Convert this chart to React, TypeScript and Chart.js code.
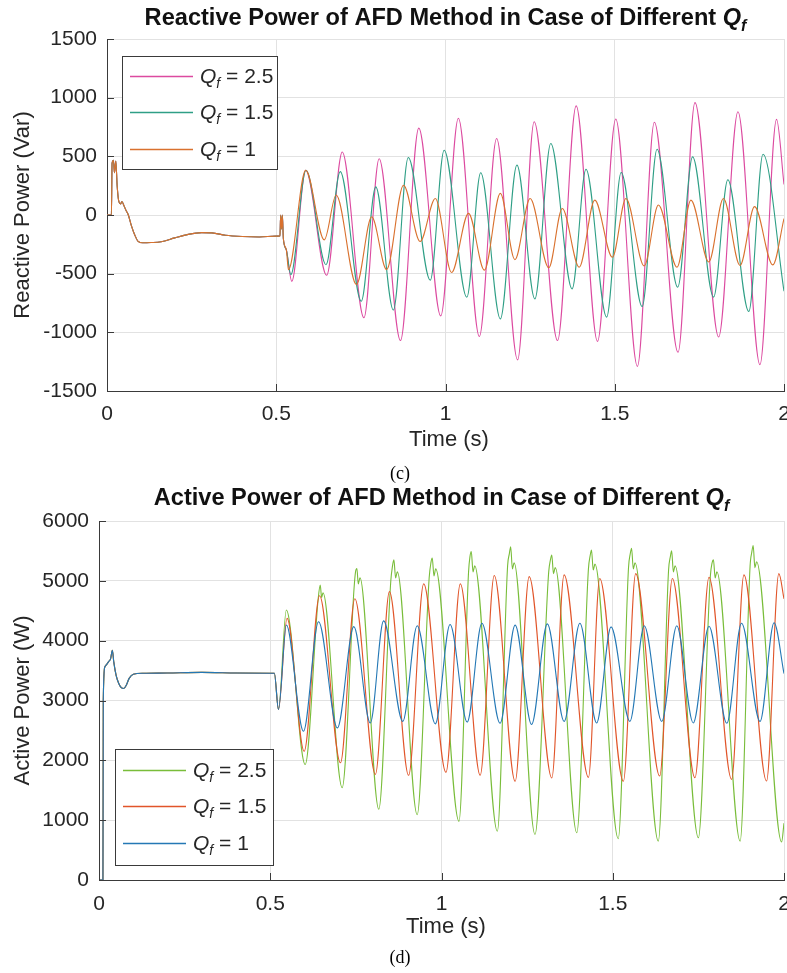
import React, { useEffect, useRef } from 'react';
import { Chart, registerables } from 'chart.js';

Chart.register(...registerables);

// ================= DATA =================
const timeTicks = [0, 0.5, 1, 1.5, 2];
const reactiveTicks = [-1500, -1000, -500, 0, 500, 1000, 1500];
const activeTicks = [0, 1000, 2000, 3000, 4000, 5000, 6000];
const qfLabels = ['2.5', '1.5', '1'];

// common transient (all three Qf curves coincide) — reactive power
const reactiveStart: [number, number][] = [
  [0, 0], [0.013, 0], [0.015, 440], [0.019, 467], [0.022, 360], [0.026, 460], [0.03, 250],
  [0.034, 130], [0.04, 95], [0.044, 115], [0.05, 80], [0.056, 40], [0.063, 0], [0.072, -90],
  [0.082, -170], [0.092, -225], [0.105, -237], [0.13, -235], [0.16, -228], [0.2, -195],
  [0.24, -165], [0.28, -150], [0.31, -152], [0.35, -172], [0.4, -183], [0.45, -187],
  [0.5, -180], [0.511, -178], [0.513, 0], [0.516, -120], [0.518, 0], [0.521, -200],
];
const reactiveQ25: [number, number][] = [
  [0.53, -300], [0.546, -565], [0.587, 381], [0.649, -514], [0.695, 537], [0.759, -876],
  [0.804, 480], [0.867, -1070], [0.921, 740], [0.986, -860], [1.038, 825], [1.1, -1035],
  [1.151, 652], [1.213, -1235], [1.262, 795], [1.331, -1070], [1.386, 930], [1.449, -1077],
  [1.503, 818], [1.567, -1290], [1.617, 790], [1.687, -1170], [1.737, 958], [1.807, -1040],
  [1.864, 880], [1.929, -1275], [1.978, 815], [2.0, 260],
];
const reactiveQ15: [number, number][] = [
  [0.53, -300], [0.543, -508], [0.588, 381], [0.647, -424], [0.689, 370], [0.751, -735],
  [0.794, 240], [0.846, -810], [0.89, 490], [0.955, -555], [0.996, 552], [1.063, -700],
  [1.104, 360], [1.162, -885], [1.211, 425], [1.264, -715], [1.311, 610], [1.374, -630],
  [1.415, 390], [1.476, -870], [1.519, 362], [1.581, -780], [1.625, 560], [1.686, -615],
  [1.73, 495], [1.792, -700], [1.834, 300], [1.896, -822], [1.938, 518], [2.0, -650],
];
const reactiveQ1: [number, number][] = [
  [0.53, -300], [0.536, -466], [0.587, 381], [0.642, -212], [0.677, 170], [0.737, -593],
  [0.782, -15], [0.826, -466], [0.876, 254], [0.925, -226], [0.97, 141], [1.018, -490],
  [1.068, 14], [1.115, -470], [1.162, 184], [1.205, -380], [1.25, 141], [1.305, -450],
  [1.345, 56], [1.395, -445], [1.441, 127], [1.493, -360], [1.533, 141], [1.587, -435],
  [1.629, 85], [1.684, -445], [1.725, 127], [1.778, -400], [1.821, 141], [1.87, -430],
  [1.913, 71], [1.967, -425], [2.0, -30],
];

// common transient — active power
const activeStart: [number, number][] = [
  [0, 0], [0.0115, 0], [0.0125, 3000], [0.017, 3560], [0.022, 3600], [0.028, 3650],
  [0.034, 3700], [0.039, 3840], [0.043, 3650], [0.05, 3420], [0.058, 3280], [0.066, 3210],
  [0.072, 3200], [0.08, 3260], [0.088, 3370], [0.1, 3440], [0.13, 3455], [0.2, 3460],
  [0.3, 3470], [0.4, 3460], [0.5, 3455], [0.512, 3455],
];
const activeQ25: [number, number][] = [
  [0.524, 2850], [0.547, 4512], [0.602, 1931], [0.64, 4700], [0.646, 4928], [0.65, 4720],
  [0.654, 4800], [0.71, 1543], [0.745, 4900], [0.749, 5150], [0.753, 5205], [0.757, 4950],
  [0.762, 5050], [0.817, 1182], [0.852, 5000], [0.857, 5250], [0.861, 5350], [0.866, 5050],
  [0.871, 5150], [0.929, 1090], [0.964, 5050], [0.969, 5300], [0.973, 5380], [0.978, 5080],
  [0.983, 5200], [1.051, 980], [1.079, 5150], [1.083, 5400], [1.087, 5490], [1.092, 5150],
  [1.097, 5250], [1.163, 815], [1.193, 5250], [1.198, 5450], [1.202, 5570], [1.207, 5200],
  [1.212, 5300], [1.273, 760], [1.313, 5150], [1.318, 5350], [1.322, 5430], [1.327, 5120],
  [1.332, 5220], [1.395, 790], [1.429, 5200], [1.434, 5420], [1.438, 5515], [1.443, 5180],
  [1.448, 5280], [1.516, 690], [1.546, 5220], [1.551, 5450], [1.555, 5545], [1.56, 5200],
  [1.565, 5300], [1.633, 650], [1.663, 5180], [1.668, 5400], [1.672, 5500], [1.677, 5150],
  [1.682, 5250], [1.75, 705], [1.785, 5080], [1.79, 5300], [1.794, 5350], [1.799, 5050],
  [1.804, 5150], [1.872, 650], [1.901, 5250], [1.906, 5480], [1.91, 5590], [1.915, 5220],
  [1.92, 5320], [1.993, 635], [2.0, 950],
];
const activeQ15: [number, number][] = [
  [0.524, 2850], [0.549, 4373], [0.599, 2153], [0.644, 4750], [0.705, 1959], [0.747, 4700],
  [0.807, 1765], [0.848, 4820], [0.904, 1750], [0.948, 4950], [1.013, 1800], [1.055, 4950],
  [1.113, 1750], [1.154, 5090], [1.215, 1650], [1.256, 5070], [1.322, 1705], [1.358, 5100],
  [1.429, 1715], [1.462, 5040], [1.531, 1650], [1.567, 5120], [1.637, 1737], [1.674, 5040],
  [1.74, 1709], [1.781, 5060], [1.847, 1682], [1.883, 5100], [1.949, 1654], [1.985, 5120],
  [2.0, 4700],
];
const activeQ1: [number, number][] = [
  [0.524, 2850], [0.547, 4262], [0.597, 2486], [0.641, 4317], [0.696, 2542], [0.744, 4234],
  [0.792, 2625], [0.831, 4330], [0.887, 2650], [0.929, 4250], [0.982, 2610], [1.025, 4270],
  [1.075, 2640], [1.118, 4290], [1.171, 2620], [1.215, 4260], [1.263, 2600], [1.309, 4280],
  [1.358, 2650], [1.404, 4290], [1.453, 2625], [1.495, 4230], [1.55, 2650], [1.592, 4250],
  [1.643, 2650], [1.687, 4250], [1.735, 2625], [1.781, 4240], [1.833, 2620], [1.876, 4290],
  [1.93, 2650], [1.971, 4300], [2.0, 3450],
];

// ================= STYLE =================
const FONT = "'Liberation Sans', Arial, Helvetica, sans-serif";
const SERIF = "'Liberation Serif', 'Times New Roman', serif";
const INK = '#262626';
const AXIS = '#3a3a3a';
const GRID = '#e2e2e2';

type Part = { text: string; italic?: boolean; bold?: boolean; sub?: boolean };

function partFont(p: Part, size: number) {
  const s = p.sub ? Math.round(size * 0.66) : size;
  return `${p.italic ? 'italic ' : ''}${p.bold ? 'bold ' : ''}${s}px ${FONT}`;
}
function partsWidth(ctx: CanvasRenderingContext2D, parts: Part[], size: number) {
  let w = 0;
  for (const p of parts) {
    ctx.font = partFont(p, size);
    w += ctx.measureText(p.text).width;
  }
  return w;
}
function drawParts(ctx: CanvasRenderingContext2D, parts: Part[], x: number, y: number, size: number, align: 'left' | 'center') {
  const w = partsWidth(ctx, parts, size);
  let cx = align === 'center' ? x - w / 2 : x;
  ctx.textAlign = 'left';
  ctx.textBaseline = 'alphabetic';
  for (const p of parts) {
    ctx.font = partFont(p, size);
    ctx.fillText(p.text, cx, p.sub ? y + size * 0.24 : y);
    cx += ctx.measureText(p.text).width;
  }
}

const toPoints = (pairs: [number, number][]) => pairs.map(([x, y]) => ({ x, y }));

interface Spec {
  top: number;
  height: number;
  yWidth: number;
  padTop: number;
  areaBottom: number;
  yTicks: number[];
  yTitle: string;
  title: Part[];
  titleY: number;
  xTitle: [number, number];
  caption: string;
  captionY: number;
  legendBox: [number, number, number, number];
  legendRows: number[];
  xTickPad: number;
  series: { label: string; color: string; pairs: [number, number][] }[];
}

const reactiveSpec: Spec = {
  top: 0,
  height: 486,
  yWidth: 107,
  padTop: 39,
  areaBottom: 391,
  yTicks: reactiveTicks,
  yTitle: 'Reactive Power (Var)',
  title: [
    { text: 'Reactive Power of AFD Method in Case of Different ', bold: true },
    { text: 'Q', bold: true, italic: true },
    { text: 'f', bold: true, italic: true, sub: true },
  ],
  titleY: 25,
  xTitle: [449, 446],
  caption: '(c)',
  captionY: 479,
  legendBox: [122, 56, 155, 113],
  legendRows: [20, 56, 93],
  xTickPad: 11,
  series: [
    { label: qfLabels[0], color: '#dc4aa0', pairs: [...reactiveStart, ...reactiveQ25] },
    { label: qfLabels[1], color: '#2f9f86', pairs: [...reactiveStart, ...reactiveQ15] },
    { label: qfLabels[2], color: '#d9712e', pairs: [...reactiveStart, ...reactiveQ1] },
  ],
};

const activeSpec: Spec = {
  top: 486,
  height: 487,
  yWidth: 99,
  padTop: 35,
  areaBottom: 394,
  yTicks: activeTicks,
  yTitle: 'Active Power (W)',
  title: [
    { text: 'Active Power of AFD Method in Case of Different ', bold: true },
    { text: 'Q', bold: true, italic: true },
    { text: 'f', bold: true, italic: true, sub: true },
  ],
  titleY: 19,
  xTitle: [446, 447],
  caption: '(d)',
  captionY: 477,
  legendBox: [115, 263, 158, 116],
  legendRows: [21, 57, 94],
  xTickPad: 12,
  series: [
    { label: qfLabels[0], color: '#79bd3a', pairs: [...activeStart, ...activeQ25] },
    { label: qfLabels[1], color: '#e1552a', pairs: [...activeStart, ...activeQ15] },
    { label: qfLabels[2], color: '#2478b5', pairs: [...activeStart, ...activeQ1] },
  ],
};

function buildConfig(spec: Spec): any {
  const datasets = [...spec.series].reverse().map((s) => ({
    label: s.label,
    data: toPoints(s.pairs),
    borderColor: s.color,
    backgroundColor: s.color,
    borderWidth: 1.1,
    pointRadius: 0,
    cubicInterpolationMode: 'monotone',
    fill: false,
  }));

  const decor = {
    id: 'decor',
    afterDraw(chart: any) {
      const ctx: CanvasRenderingContext2D = chart.ctx;
      const ca = chart.chartArea;
      const xs = chart.scales.x;
      const ys = chart.scales.y;
      ctx.save();
      // inward tick marks
      ctx.strokeStyle = AXIS;
      ctx.lineWidth = 1;
      ctx.beginPath();
      for (const t of timeTicks) {
        const px = Math.round(xs.getPixelForValue(t)) + 0.5;
        ctx.moveTo(px, ca.bottom);
        ctx.lineTo(px, ca.bottom - 7);
      }
      for (const v of spec.yTicks) {
        const py = Math.round(ys.getPixelForValue(v)) + 0.5;
        ctx.moveTo(ca.left, py);
        ctx.lineTo(ca.left + 7, py);
      }
      ctx.stroke();

      // legend
      const [bx, by, bw, bh] = spec.legendBox;
      ctx.fillStyle = '#ffffff';
      ctx.fillRect(bx, by, bw, bh);
      ctx.strokeStyle = AXIS;
      ctx.lineWidth = 1;
      ctx.strokeRect(bx + 0.5, by + 0.5, bw, bh);
      spec.series.forEach((s, i) => {
        const ry = by + spec.legendRows[i];
        ctx.strokeStyle = s.color;
        ctx.lineWidth = 1.3;
        ctx.beginPath();
        ctx.moveTo(bx + 8, ry + 0.5);
        ctx.lineTo(bx + 71, ry + 0.5);
        ctx.stroke();
        ctx.fillStyle = INK;
        drawParts(
          ctx,
          [
            { text: 'Q', italic: true },
            { text: 'f', italic: true, sub: true },
            { text: ' = ' + s.label },
          ],
          bx + 78,
          ry + 7,
          21,
          'left'
        );
      });

      // title
      ctx.fillStyle = '#111';
      drawParts(ctx, spec.title, (ca.left + ca.right) / 2, spec.titleY, 23.6, 'center');

      // x title
      ctx.fillStyle = INK;
      ctx.font = `22px ${FONT}`;
      ctx.textAlign = 'center';
      ctx.textBaseline = 'alphabetic';
      ctx.fillText('Time (s)', spec.xTitle[0], spec.xTitle[1]);

      // y title
      ctx.save();
      ctx.translate(23, (ca.top + ca.bottom) / 2);
      ctx.rotate(-Math.PI / 2);
      ctx.textAlign = 'center';
      ctx.textBaseline = 'middle';
      ctx.font = `22px ${FONT}`;
      ctx.fillText(spec.yTitle, 0, 0);
      ctx.restore();

      // caption
      ctx.fillStyle = '#000';
      ctx.font = `18px ${SERIF}`;
      ctx.textAlign = 'center';
      ctx.textBaseline = 'alphabetic';
      ctx.fillText(spec.caption, 400, spec.captionY);
      ctx.restore();
    },
  };

  const yTicks = spec.yTicks;
  return {
    type: 'line',
    data: { datasets },
    options: {
      responsive: false,
      animation: false,
      events: [],
      layout: { padding: { left: 0, right: 3, top: spec.padTop, bottom: 0 } },
      plugins: { legend: { display: false }, title: { display: false }, tooltip: { enabled: false } },
      scales: {
        x: {
          type: 'linear',
          min: timeTicks[0],
          max: timeTicks[timeTicks.length - 1],
          ticks: {
            stepSize: timeTicks[1] - timeTicks[0],
            color: INK,
            font: { family: FONT, size: 21 },
            padding: spec.xTickPad,
            maxRotation: 0,
            callback: (v: any) => String(v),
          },
          grid: { color: GRID, lineWidth: 1, drawTicks: false },
          border: { display: true, color: AXIS, width: 1 },
          afterFit: (scale: any) => {
            scale.height = spec.height - spec.areaBottom;
            scale.paddingLeft = 0;
            scale.paddingRight = 0;
          },
        },
        y: {
          type: 'linear',
          min: yTicks[0],
          max: yTicks[yTicks.length - 1],
          ticks: {
            stepSize: yTicks[1] - yTicks[0],
            color: INK,
            font: { family: FONT, size: 21 },
            padding: 10,
            callback: (v: any) => String(v),
          },
          grid: { color: GRID, lineWidth: 1, drawTicks: false },
          border: { display: true, color: AXIS, width: 1 },
          afterFit: (scale: any) => {
            scale.width = spec.yWidth;
          },
        },
      },
    },
    plugins: [decor],
  };
}

function Panel({ spec }: { spec: Spec }) {
  const ref = useRef<HTMLCanvasElement>(null);
  useEffect(() => {
    const chart = new Chart(ref.current as HTMLCanvasElement, buildConfig(spec));
    return () => chart.destroy();
  }, [spec]);
  return (
    <canvas
      ref={ref}
      width={787}
      height={spec.height}
      style={{ position: 'absolute', left: 0, top: spec.top, width: 787, height: spec.height, display: 'block' }}
    />
  );
}

export default function App() {
  return (
    <div style={{ position: 'absolute', left: 0, top: 0, width: 787, height: 973, background: '#ffffff' }}>
      <Panel spec={reactiveSpec} />
      <Panel spec={activeSpec} />
    </div>
  );
}
